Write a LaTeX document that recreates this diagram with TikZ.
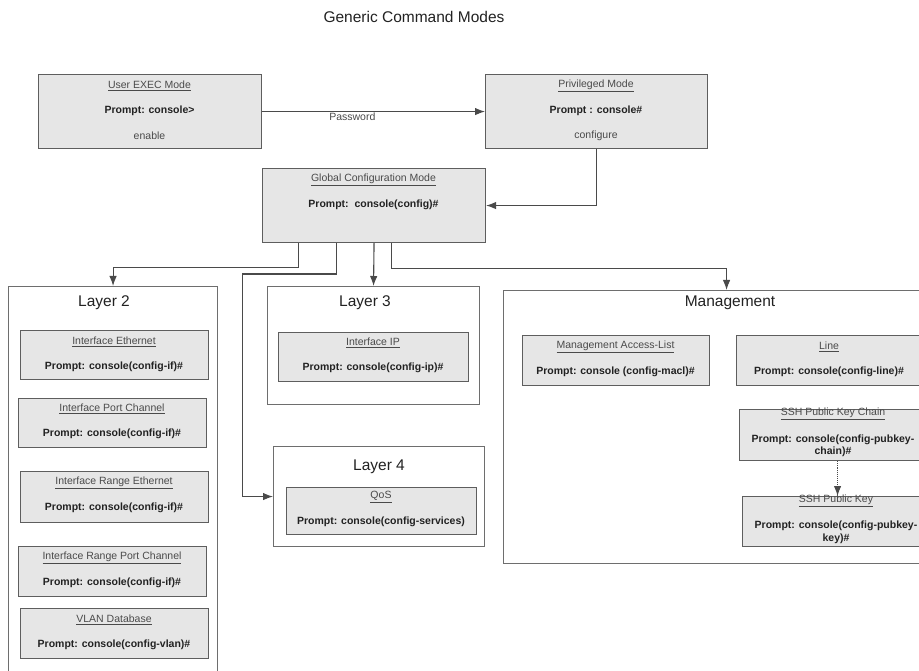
\documentclass[tikz,border=0pt]{standalone}
\usepackage{fontspec}
\setmainfont{Liberation Sans}
\usetikzlibrary{arrows.meta}
\definecolor{boxfill}{HTML}{E6E6E6}
\definecolor{boxline}{HTML}{5E5E5E}
\definecolor{contline}{HTML}{6E6E6E}
\definecolor{lineclr}{HTML}{4A4A4A}
\definecolor{txtgray}{HTML}{4A4A4A}
\definecolor{txtdark}{HTML}{222222}
\tikzset{
  gbox/.style={draw=boxline, fill=boxfill, line width=1.1pt, rectangle, inner sep=0pt, anchor=north west},
  cont/.style={draw=contline, fill=white, line width=1.1pt, rectangle, inner sep=0pt, anchor=north west},
  ttl/.style={font=\fontsize{10.5}{12}\selectfont, text=txtgray, inner sep=0pt},
  plain/.style={font=\fontsize{10.5}{12}\selectfont, text=txtgray, inner sep=0pt},
  prm/.style={font=\fontsize{10.5}{12.5}\selectfont\bfseries, text=txtdark, inner sep=0pt, align=center},
  lay/.style={font=\fontsize{15.5}{18}\selectfont, text=txtdark, inner sep=0pt},
  arr/.style={draw=lineclr, line width=1.1pt, -{Latex[length=10pt,width=7.5pt]}},
}
\begin{document}
\begin{tikzpicture}[x=1pt,y=-1pt]
\useasboundingbox (0,0) rectangle (919,671);
\clip (0,0) rectangle (919,671);
\fill[white] (0,0) rectangle (919,671);

% title
\node[font=\fontsize{15.5}{18}\selectfont, text=txtdark, inner sep=0pt] (title) at (414,17) {Generic Command Modes};

% top boxes
\node[gbox, minimum width=223pt, minimum height=74pt] (ue) at (38,74) {};
\node[ttl] (ueT) at (149.5,86) {\underline{User EXEC Mode}};
\node[prm] (ueP) at (149.5,111) {Prompt: console>};
\node[plain] (ueC) at (149.5,136) {enable};

\node[gbox, minimum width=222pt, minimum height=74pt] (pm) at (485,74) {};
\node[ttl] (pmT) at (596,86) {\underline{Privileged Mode}};
\node[prm] (pmP) at (596,111) {Prompt : console\#};
\node[plain] (pmC) at (596,136) {configure};

\node[gbox, minimum width=223pt, minimum height=74pt] (gc) at (262,168) {};
\node[ttl] (gcT) at (373.5,180) {\underline{Global Configuration Mode}};
\node[prm] (gcP) at (373.5,205) {Prompt:\ \ console(config)\#};

% containers
\node[cont, minimum width=209pt, minimum height=420pt] (L2) at (8,286) {};
\node[lay] (L2T) at (104,303) {Layer 2};
\node[cont, minimum width=212pt, minimum height=118pt] (L3) at (267,286) {};
\node[lay] (L3T) at (365,303) {Layer 3};
\node[cont, minimum width=211pt, minimum height=100pt] (L4) at (273,446) {};
\node[lay] (L4T) at (379,467) {Layer 4};
\node[cont, minimum width=446pt, minimum height=273pt] (Mg) at (503,290) {};
\node[lay] (MgT) at (730,303) {Management};

% Layer 2 boxes
\node[gbox, minimum width=188pt, minimum height=49pt] (ie) at (20,330) {};
\node[ttl] (ieT) at (114,342) {\underline{Interface Ethernet}};
\node[prm] (ieP) at (114,367) {Prompt: console(config-if)\#};

\node[gbox, minimum width=188pt, minimum height=49pt] (ipc) at (18,398) {};
\node[ttl] (ipcT) at (112,409) {\underline{Interface Port Channel}};
\node[prm] (ipcP) at (112,434) {Prompt: console(config-if)\#};

\node[gbox, minimum width=188pt, minimum height=51pt] (ire) at (20,471) {};
\node[ttl] (ireT) at (114,483) {\underline{Interface Range Ethernet}};
\node[prm] (ireP) at (114,508) {Prompt: console(config-if)\#};

\node[gbox, minimum width=188pt, minimum height=50pt] (irpc) at (18,546) {};
\node[ttl] (irpcT) at (112,558) {\underline{Interface Range Port Channel}};
\node[prm] (irpcP) at (112,583) {Prompt: console(config-if)\#};

\node[gbox, minimum width=188pt, minimum height=50pt] (vlan) at (20,608) {};
\node[ttl] (vlanT) at (114,620) {\underline{VLAN Database}};
\node[prm] (vlanP) at (114,645) {Prompt: console(config-vlan)\#};

% Layer 3 / 4 boxes
\node[gbox, minimum width=190pt, minimum height=49pt] (iip) at (278,332) {};
\node[ttl] (iipT) at (373,343) {\underline{Interface IP}};
\node[prm] (iipP) at (373,368) {Prompt: console(config-ip)\#};

\node[gbox, minimum width=190pt, minimum height=47pt] (qos) at (286,487) {};
\node[ttl] (qosT) at (381,497) {\underline{QoS}};
\node[prm] (qosP) at (381,522) {Prompt: console(config-services)};

% Management boxes
\node[gbox, minimum width=187pt, minimum height=50pt] (macl) at (522,335) {};
\node[ttl] (maclT) at (615.5,347) {\underline{Management Access-List}};
\node[prm] (maclP) at (615.5,372) {Prompt: console (config-macl)\#};

\node[gbox, minimum width=190pt, minimum height=50pt] (line) at (736,335) {};
\node[ttl] (lineT) at (829,347) {\underline{Line}};
\node[prm] (lineP) at (829,372) {Prompt: console(config-line)\#};

\node[gbox, minimum width=196pt, minimum height=51pt] (kc) at (739,409) {};
\node[ttl] (kcT) at (833,414) {\underline{SSH Public Key Chain}};
\node[prm] (kcP) at (833,446) {Prompt: console(config-pubkey-\\chain)\#};

\node[gbox, minimum width=190pt, minimum height=50pt] (key) at (742,496) {};
\node[ttl] (keyT) at (836,501) {\underline{SSH Public Key}};
\node[prm] (keyP) at (836,532.5) {Prompt: console(config-pubkey-\\key)\#};

% connectors
\draw[arr] (ue.east) -- node[pos=0.405, anchor=north, inner sep=1pt, font=\fontsize{10.5}{12}\selectfont, text=txtgray] (pw) {Password} (pm.west);
\draw[arr] (pm.south) |- (gc.east);
\draw[arr] (gc.south) -- (L3.north);
\draw[arr] ([xshift=-75.5pt]gc.south) -- ++(0,24) -| (L2.north);
\coordinate (j2) at (242.5,274);
\draw[arr] ([xshift=-37.5pt]gc.south) |- (j2) |- (L4.west);
\draw[arr] ([xshift=17.5pt]gc.south) -- ++(0,25) -| (Mg.north);
\draw[arr, densely dotted] (kc.south) -- (key.north);
\end{tikzpicture}
\end{document}
